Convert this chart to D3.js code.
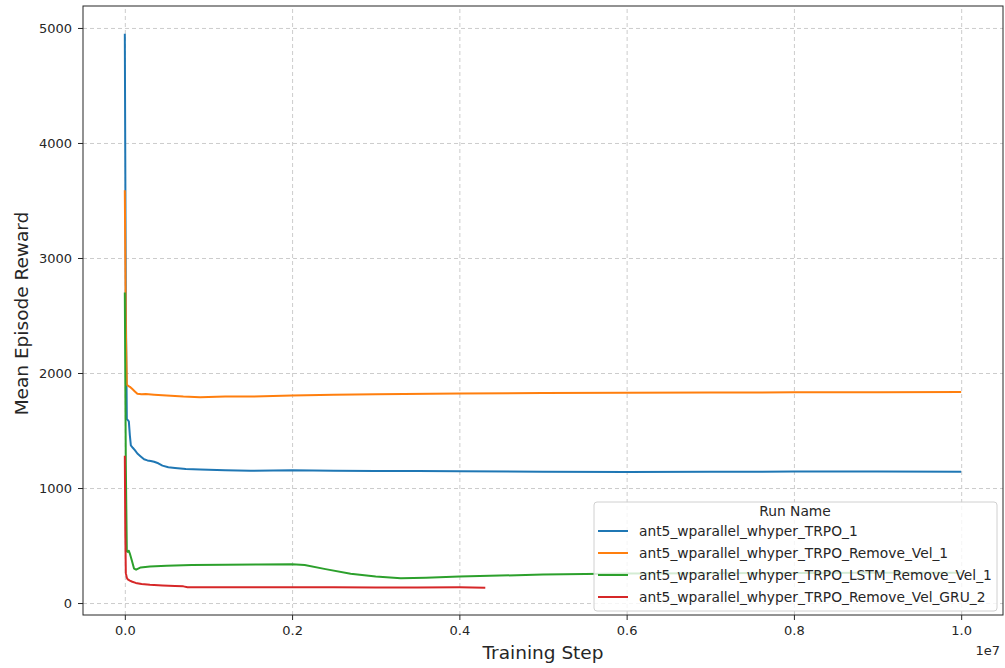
<!DOCTYPE html>
<html>
<head>
<meta charset="utf-8">
<script src="https://cdn.jsdelivr.net/npm/d3@7"></script>
<style>
  body { margin: 0; background: #fff; }
  text { font-family: "DejaVu Sans", sans-serif; }
  .grid line { stroke: #cccccc; stroke-dasharray: 4,3; stroke-width: 1; }
  .grid path { display: none; }
  .axis text { font-size: 13px; fill: #262626; }
  .axis line { stroke: #262626; }
  .axis path { display: none; }
</style>
</head>
<body>
<div id="chart"></div>
<script>
// data
var seriesNames = [
  "ant5_wparallel_whyper_TRPO_1",
  "ant5_wparallel_whyper_TRPO_Remove_Vel_1",
  "ant5_wparallel_whyper_TRPO_LSTM_Remove_Vel_1",
  "ant5_wparallel_whyper_TRPO_Remove_Vel_GRU_2"
];
var seriesColors = ["#1f77b4", "#ff7f0e", "#2ca02c", "#d62728"];

var trpoSteps = [0, 12000, 24000, 36000, 48000, 60000, 72000, 95000, 120000, 150000, 190000, 230000, 270000, 310000, 350000, 400000, 450000, 520000, 600000, 730000, 900000, 1200000, 1500000, 2000000, 2500000, 3000000, 3500000, 4000000, 5000000, 6000000, 7000000, 8000000, 9000000, 10000000];
var trpoReward = [4950, 2600, 1600, 1590, 1580, 1460, 1370, 1350, 1330, 1300, 1275, 1250, 1240, 1235, 1228, 1215, 1195, 1180, 1175, 1165, 1162, 1155, 1150, 1155, 1150, 1148, 1147, 1145, 1142, 1140, 1141, 1143, 1144, 1142];

var removeVelSteps = [0, 12000, 24000, 36000, 60000, 90000, 120000, 150000, 200000, 250000, 350000, 500000, 700000, 900000, 1200000, 1500000, 2000000, 2500000, 3000000, 4000000, 5000000, 6000000, 7000000, 8000000, 9000000, 10000000];
var removeVelReward = [3590, 2400, 1900, 1890, 1880, 1860, 1840, 1820, 1815, 1818, 1812, 1805, 1795, 1790, 1795, 1795, 1805, 1810, 1815, 1822, 1826, 1828, 1830, 1832, 1833, 1835];

var lstmSteps = [0, 12000, 24000, 36000, 48000, 60000, 84000, 110000, 135000, 190000, 300000, 500000, 800000, 1200000, 1600000, 2000000, 2150000, 2400000, 2700000, 3000000, 3300000, 3600000, 4000000, 5000000, 6000000, 7000000, 8000000, 9000000, 10000000];
var lstmReward = [2700, 1200, 450, 445, 455, 430, 370, 300, 290, 310, 318, 325, 330, 333, 336, 338, 330, 295, 255, 230, 215, 220, 230, 248, 256, 259, 261, 263, 264];

var gruSteps = [0, 6000, 12000, 24000, 36000, 60000, 90000, 130000, 200000, 300000, 450000, 600000, 700000, 750000, 1000000, 1500000, 2000000, 2500000, 3000000, 3500000, 4000000, 4310000];
var gruReward = [1280, 600, 260, 220, 205, 195, 185, 175, 165, 158, 152, 148, 145, 138, 137, 137, 138, 138, 136, 136, 137, 133];

var xTicks = [0, 2000000, 4000000, 6000000, 8000000, 10000000];
var yTicks = [0, 1000, 2000, 3000, 4000, 5000];

var svgWidth = 1005;
var svgHeight = 668;
var margin = { top: 6, right: 2, bottom: 53, left: 83 };
var width = svgWidth - margin.left - margin.right;
var height = svgHeight - margin.top - margin.bottom;

var svg = d3.select("#chart")
  .append("svg")
  .attr("width", svgWidth)
  .attr("height", svgHeight);

var chartGroup = svg.append("g")
  .attr("transform", `translate(${margin.left}, ${margin.top})`);

var xScale = d3.scaleLinear()
  .domain([-500000, 10500000])
  .range([0, width]);

var yScale = d3.scaleLinear()
  .domain([-104, 5191])
  .range([height, 0]);

// grid
chartGroup.append("g")
  .attr("class", "grid")
  .attr("transform", `translate(0, ${height})`)
  .call(d3.axisBottom(xScale).tickValues(xTicks).tickSize(-height).tickFormat(""));

chartGroup.append("g")
  .attr("class", "grid")
  .call(d3.axisLeft(yScale).tickValues(yTicks).tickSize(-width).tickFormat(""));

// axes
chartGroup.append("g")
  .attr("class", "axis")
  .attr("transform", `translate(0, ${height})`)
  .call(d3.axisBottom(xScale).tickValues(xTicks).tickSize(5).tickPadding(6)
    .tickFormat(d => (d / 1e7).toFixed(1)));

chartGroup.append("g")
  .attr("class", "axis")
  .call(d3.axisLeft(yScale).tickValues(yTicks).tickSize(5).tickPadding(6)
    .tickFormat(d3.format("d")));

// lines
var allSeries = [
  { steps: trpoSteps, reward: trpoReward },
  { steps: removeVelSteps, reward: removeVelReward },
  { steps: lstmSteps, reward: lstmReward },
  { steps: gruSteps, reward: gruReward }
];

var line = d3.line()
  .x(d => xScale(d[0]))
  .y(d => yScale(d[1]));

allSeries.forEach(function(s, i) {
  var pts = s.steps.map((st, j) => [st, s.reward[j]]);
  chartGroup.append("path")
    .datum(pts)
    .attr("fill", "none")
    .attr("stroke", seriesColors[i])
    .attr("stroke-width", 2)
    .attr("stroke-linejoin", "round")
    .attr("d", line);
});

// frame
chartGroup.append("rect")
  .attr("width", width)
  .attr("height", height)
  .attr("fill", "none")
  .attr("stroke", "#262626")
  .attr("stroke-width", 1);

// axis labels
svg.append("text")
  .attr("x", margin.left + xScale(5000000))
  .attr("y", 659)
  .attr("text-anchor", "middle")
  .style("font-size", "18.5px")
  .attr("fill", "#262626")
  .text("Training Step");

svg.append("text")
  .attr("transform", `translate(28, ${margin.top + yScale(2500) - 2}) rotate(-90)`)
  .attr("text-anchor", "middle")
  .style("font-size", "18.5px")
  .attr("fill", "#262626")
  .text("Mean Episode Reward");

svg.append("text")
  .attr("x", 1000)
  .attr("y", 655)
  .attr("text-anchor", "end")
  .style("font-size", "13px")
  .attr("fill", "#262626")
  .text("1e7");

// legend
var legend = svg.append("g")
  .attr("transform", "translate(594, 502)");

legend.append("rect")
  .attr("width", 403)
  .attr("height", 109)
  .attr("rx", 3)
  .attr("fill", "#fff")
  .attr("fill-opacity", 0.8)
  .attr("stroke", "#d0d0d0");

legend.append("text")
  .attr("x", 201)
  .attr("y", 14)
  .attr("text-anchor", "middle")
  .style("font-size", "13.8px")
  .attr("fill", "#262626")
  .text("Run Name");

seriesNames.forEach(function(name, i) {
  var yy = 29 + i * 22;
  legend.append("line")
    .attr("x1", 4).attr("x2", 34)
    .attr("y1", yy).attr("y2", yy)
    .attr("stroke", seriesColors[i])
    .attr("stroke-width", 2);
  legend.append("text")
    .attr("x", 45)
    .attr("y", yy + 5)
    .style("font-size", "13.8px")
    .attr("fill", "#262626")
    .text(name);
});
</script>
</body>
</html>
